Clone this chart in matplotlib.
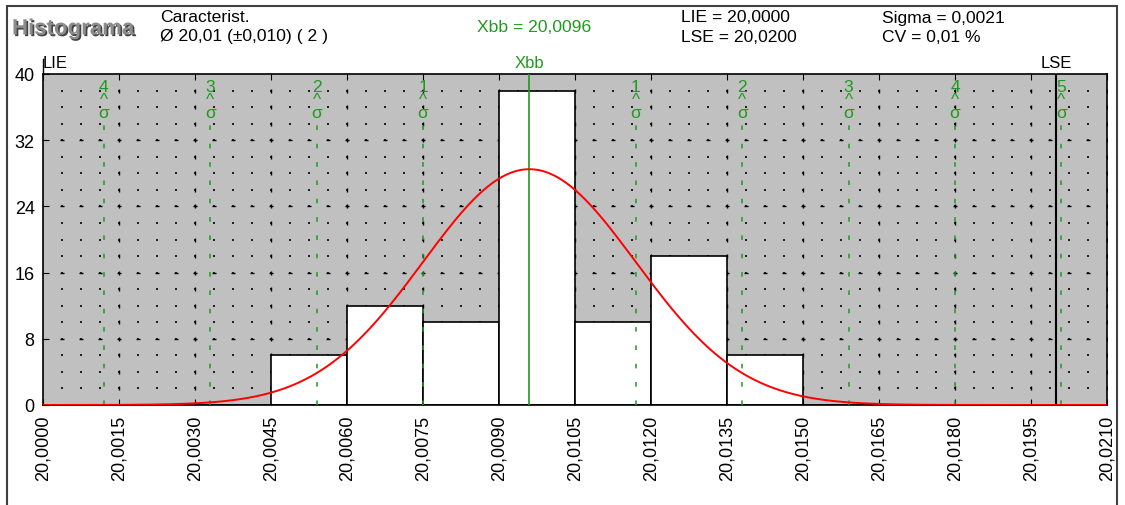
import numpy as np
import matplotlib.pyplot as plt
import matplotlib.patheffects as pe
from matplotlib.patches import Rectangle
from matplotlib.ticker import FuncFormatter

plt.rcParams['font.family'] = ['Liberation Sans', 'DejaVu Sans']

# histogram classes (left edges) and counts
bin_left = [20.0030, 20.0045, 20.0060, 20.0075, 20.0090, 20.0105, 20.0120, 20.0135, 20.0150]
counts = [0, 6, 12, 10, 38, 10, 18, 6, 0]
bin_width = 0.0015

xbb = 20.0096
sigma = 0.0021
lie = 20.0000
lse = 20.0200
sigma_steps = [-4, -3, -2, -1, 1, 2, 3, 4, 5]

x_ticks = np.round(20.0 + np.arange(15) * 0.0015, 4)
y_ticks = [0, 8, 16, 24, 32, 40]

GREEN = '#1f9a1f'
W, H = 1125, 506


def px(x, y):
    return x / W, 1 - y / H


fig = plt.figure(figsize=(W / 100, H / 100), dpi=100)
ax = fig.add_axes([43 / W, 1 - 406 / H, (1107 - 43) / W, (406 - 75) / H])
ax.set_facecolor('#c0c0c0')
ax.set_xlim(20.0, 20.021)
ax.set_ylim(0, 40)

# dotted background grid
minor_x = 20.0 + np.arange(1, 56) * 0.000375
minor_y = np.arange(1, 20) * 2.0
gx, gy = np.meshgrid(minor_x, minor_y)
ax.scatter(gx.ravel(), gy.ravel(), s=1.0, marker='s', color='#202020', linewidths=0, zorder=1)
for xt in x_ticks[1:]:
    ax.plot(np.full(len(minor_y), xt), minor_y, ls='none', marker='|', ms=3.2,
            mew=1.0, color='black', zorder=1)
for yt in y_ticks[1:-1]:
    ax.plot(minor_x, np.full(len(minor_x), yt), ls='none', marker='_', ms=3.2,
            mew=1.0, color='black', zorder=1)

ax.bar(bin_left, counts, width=bin_width, align='edge', color='white',
       edgecolor='black', linewidth=1.2, zorder=2)

# sigma limits
for k in sigma_steps:
    xs = xbb + k * sigma
    ax.plot([xs, xs], [0, 34.6], color=GREEN, ls=(0, (3, 9)), lw=1.1, zorder=3)
    ax.text(xs, 39.4, f'{abs(k)}\n^\nσ', color=GREEN, fontsize=12.5, ha='center',
            va='top', linespacing=0.82, zorder=4)

ax.axvline(xbb, color=GREEN, lw=1.2, zorder=3)
ax.axvline(lse, color='black', lw=1.5, zorder=3)

# fitted normal curve
n = sum(counts)
xc = np.linspace(20.0, 20.021, 600)
yc = n * bin_width / (sigma * np.sqrt(2 * np.pi)) * np.exp(-0.5 * ((xc - xbb) / sigma) ** 2)
ax.plot(xc, yc, color='#ff0000', lw=1.4, zorder=5)

ax.set_xticks(x_ticks)
ax.set_yticks(y_ticks)
ax.xaxis.set_major_formatter(FuncFormatter(lambda v, p: f'{v:.4f}'.replace('.', ',')))
ax.tick_params(axis='x', rotation=90, labelsize=13, direction='in', length=4, top=True, pad=7)
ax.tick_params(axis='y', labelsize=13, direction='in', length=4, pad=6)
for s in ax.spines.values():
    s.set_color('black')
    s.set_linewidth(1.2)

# labels above the plot
ax.text(lie, 1.012, 'LIE', transform=ax.get_xaxis_transform(), fontsize=12,
        ha='left', va='bottom')
ax.plot([lie, lie], [1.0, 1.045], transform=ax.get_xaxis_transform(), color='black',
        lw=1, clip_on=False)
ax.text(xbb, 1.012, 'Xbb', transform=ax.get_xaxis_transform(), fontsize=12,
        color=GREEN, ha='center', va='bottom')
ax.text(lse, 1.012, 'LSE', transform=ax.get_xaxis_transform(), fontsize=12,
        ha='center', va='bottom')

# header
fig.text(*px(12, 30), 'Histograma', fontsize=16, fontweight='bold', color='#8c8c8c',
         va='center', ha='left',
         path_effects=[pe.withSimplePatchShadow(offset=(1.2, -1.2), shadow_rgbFace='#303030',
                                                alpha=0.9)])
hdr = dict(fontsize=12.6, va='center')
fig.text(*px(160, 18), 'Caracterist.', **hdr)
fig.text(*px(160, 37), 'Ø 20,01 (±0,010) ( 2 )', **hdr)
fig.text(*px(477, 27), 'Xbb = 20,0096', color=GREEN, **hdr)
fig.text(*px(681, 18), 'LIE = 20,0000', **hdr)
fig.text(*px(681, 37), 'LSE = 20,0200', **hdr)
fig.text(*px(882, 18), 'Sigma = 0,0021', **hdr)
fig.text(*px(882, 37), 'CV = 0,01 %', **hdr)

# outer frame
fig.add_artist(Rectangle(px(7, 530), (1117 - 7) / W, (530 - 7) / H, fill=False,
                         edgecolor='#404040', lw=1.5, transform=fig.transFigure))

fig.savefig('out.png', dpi=100)
